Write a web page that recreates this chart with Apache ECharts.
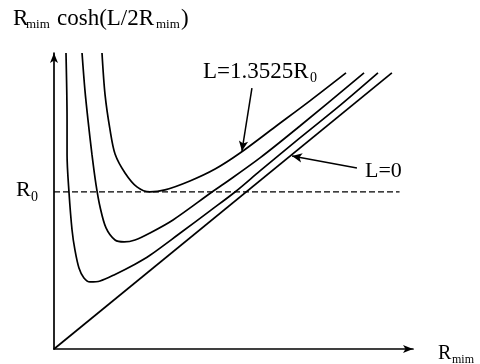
<!DOCTYPE html>
<html>
<head>
<meta charset="utf-8">
<script src="https://cdn.jsdelivr.net/npm/echarts@6/dist/echarts.min.js"></script>
<style>html,body{margin:0;padding:0;background:#fff}#c{width:480px;height:364px}</style>
</head>
<body>
<div id="c"></div>
<script>
// Values in units of R0 : [R_min, R_min cosh(L/2R_min)]
const curveL13525 = [[0.25,1.885],[0.266,1.618],[0.292,1.395],[0.318,1.242],[0.37,1.121],[0.432,1.032],[0.5,1.0],[0.578,1.013],[0.708,1.07],[0.839,1.146],[0.969,1.248],[1.151,1.414],[1.333,1.58],[1.521,1.758]];
const curveMid = [[0.146,1.885],[0.161,1.65],[0.177,1.459],[0.198,1.236],[0.219,1.045],[0.24,0.904],[0.271,0.771],[0.318,0.694],[0.365,0.682],[0.422,0.694],[0.5,0.739],[0.62,0.822],[0.823,1.0],[0.891,1.057],[1.073,1.217],[1.281,1.42],[1.615,1.758]];
const curveLow = [[0.0625,1.885],[0.068,1.459],[0.068,1.236],[0.078,1.0],[0.094,0.758],[0.109,0.631],[0.13,0.516],[0.156,0.452],[0.1875,0.427],[0.24,0.433],[0.318,0.475],[0.422,0.54],[0.5,0.597],[0.656,0.737],[0.8125,0.88],[0.943,1.0],[1.073,1.134],[1.281,1.344],[1.49,1.551],[1.6875,1.758]];
const curveL0 = [[0,0],[1.76,1.758]];
const refR0 = [[0,1],[1.8,1]];
const arrowLabelL = [[1.031,1.662],[0.979,1.261]];
const arrowLabel0 = [[1.578,1.153],[1.24,1.229]];

const serif = "'Liberation Serif','Times New Roman',serif";
const chart = echarts.init(document.getElementById('c'), null, {renderer:'canvas'});
const lineStyle = {color:'#000', width:1.7};
function curve(d){
  return {type:'line', data:d, smooth:0.3, showSymbol:false, symbol:'none', lineStyle:lineStyle, silent:true, z:3};
}
function txt(x,y,s,fs){
  return {type:'text', x:x, y:y, style:{text:s, fill:'#000', font: fs+'px '+serif, textAlign:'left', textVerticalAlign:'bottom', verticalAlign:'bottom'}};
}
chart.setOption({
  animation:false,
  backgroundColor:'#fff',
  grid:{left:54, right:67, top:53, bottom:15, containLabel:false},
  xAxis:{type:'value', min:0, max:1.87,
    axisLine:{show:true, onZero:false, symbol:['none','arrow'], symbolSize:[6,10], lineStyle:{color:'#000', width:1.7}},
    axisTick:{show:false}, axisLabel:{show:false}, splitLine:{show:false}},
  yAxis:{type:'value', min:0, max:1.885,
    axisLine:{show:true, onZero:false, symbol:['none','arrow'], symbolSize:[6,10], lineStyle:{color:'#000', width:1.7}},
    axisTick:{show:false}, axisLabel:{show:false}, splitLine:{show:false}},
  series:[
    curve(curveL13525),
    curve(curveMid),
    curve(curveLow),
    Object.assign(curve(curveL0), {smooth:false,
      markLine:{silent:true, symbol:['none','arrow'], symbolSize:[7,10], label:{show:false},
        lineStyle:{color:'#000', width:1.5, type:'solid'},
        data:[
          [{coord:arrowLabelL[0]},{coord:arrowLabelL[1]}],
          [{coord:arrowLabel0[0]},{coord:arrowLabel0[1]}]
        ]}}),
    {type:'line', data:refR0, showSymbol:false, symbol:'none', silent:true,
      lineStyle:{color:'#000', width:1.2, type:[6,3]}}
  ],
  graphic:[
    txt(13,30,'R',23), txt(26,31,'mim',13), txt(57,30,'cosh(L/2R',23), txt(156,31,'mim',13), txt(181,30,')',23),
    txt(203,83,'L=1.3525R',23), txt(310,85,'0',14),
    txt(365,182,'L=0',22),
    txt(16,201,'R',22), txt(31,204,'0',14),
    txt(438,364,'R',20), txt(452,366,'mim',12)
  ]
});
</script>
</body>
</html>
